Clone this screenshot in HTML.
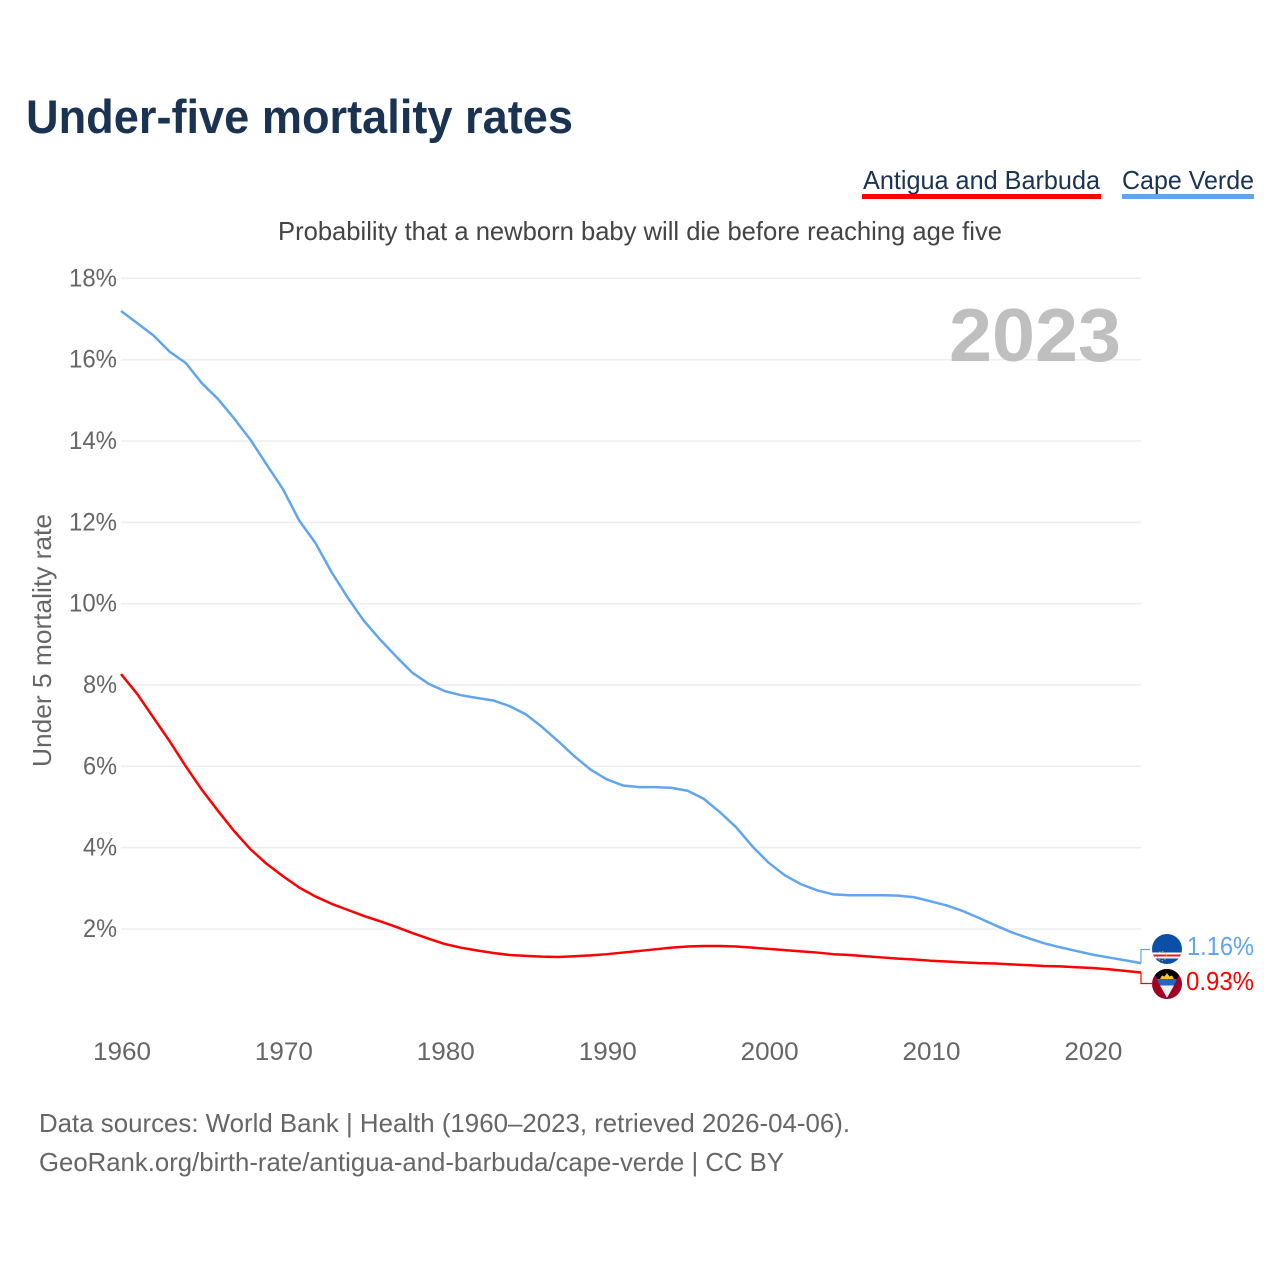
<!DOCTYPE html>
<html lang="en">
<head>
<meta charset="utf-8">
<title>Under-five mortality rates</title>
<style>
html,body{margin:0;padding:0;background:#fff;}
svg{display:block;font-family:"Liberation Sans",sans-serif;}
</style>
</head>
<body>
<svg id="chart" xmlns="http://www.w3.org/2000/svg" width="1280" height="1280" viewBox="0 0 1280 1280">
  <rect width="1280" height="1280" fill="#ffffff"/>
  <text x="26" y="133" font-size="47" font-weight="700" fill="#1a3353" textLength="547" lengthAdjust="spacingAndGlyphs">Under-five mortality rates</text>

  <g>
    <text x="863" y="189" font-size="26" fill="#1a3353" textLength="237" lengthAdjust="spacingAndGlyphs">Antigua and Barbuda</text>
    <rect x="862" y="194" width="239" height="5" fill="#ff0000"/>
  </g>
  <g>
    <text x="1122" y="189" font-size="26" fill="#1a3353" textLength="132" lengthAdjust="spacingAndGlyphs">Cape Verde</text>
    <rect x="1122" y="194" width="132" height="5" fill="#60a5ee"/>
  </g>

  <text x="278" y="240" font-size="26" fill="#444444" textLength="724" lengthAdjust="spacingAndGlyphs">Probability that a newborn baby will die before reaching age five</text>
  <text transform="translate(51,767) rotate(-90)" font-size="26" fill="#666666" textLength="253" lengthAdjust="spacingAndGlyphs">Under 5 mortality rate</text>

  <g id="grid"></g>
  <g id="yticks"></g>
  <g id="xticks"></g>

  <text x="949" y="361" font-size="75" font-weight="700" fill="#bfbfbf" textLength="172" lengthAdjust="spacingAndGlyphs">2023</text>

  <g id="series"></g>
  <g id="ends"></g>

  <defs>
    <clipPath id="clip-cv"><circle cx="1167" cy="949" r="15"/></clipPath>
    <clipPath id="clip-ag"><circle cx="1167" cy="984" r="15"/></clipPath>
  </defs>
  <g clip-path="url(#clip-cv)">
    <rect x="1152" y="934" width="30" height="30" fill="#0a4fa8"/>
    <rect x="1152" y="952.5" width="30" height="6" fill="#ffffff"/>
    <rect x="1152" y="954.5" width="30" height="2" fill="#d8202c"/>
    <circle cx="1162" cy="956" r="4.5" fill="none" stroke="#d9b84a" stroke-width="1" stroke-dasharray="1.5 1.5" opacity="0.8"/>
  </g>
  <g clip-path="url(#clip-ag)">
    <rect x="1152" y="969" width="30" height="30" fill="#a00022"/>
    <polygon points="1152,969 1182,969 1167,999" fill="#000000"/>
    <polygon points="1157,979 1177,979 1174,985.5 1160,985.5" fill="#1f6ac0"/>
    <polygon points="1160,985.5 1174,985.5 1167,998" fill="#eeeeee"/>
    <polygon points="1160,979 1162,975.5 1164.5,976.5 1167,973 1169.5,976.5 1172,975.5 1174,979" fill="#f4c430"/>
  </g>

  <text x="39" y="1132" font-size="26" fill="#666666" textLength="811" lengthAdjust="spacingAndGlyphs">Data sources: World Bank | Health (1960–2023, retrieved 2026-04-06).</text>
  <text x="39" y="1171" font-size="26" fill="#666666" textLength="745" lengthAdjust="spacingAndGlyphs">GeoRank.org/birth-rate/antigua-and-barbuda/cape-verde | CC BY</text>
</svg>

<script>
const years = [1960,1961,1962,1963,1964,1965,1966,1967,1968,1969,1970,1971,1972,1973,1974,1975,1976,1977,1978,1979,1980,1981,1982,1983,1984,1985,1986,1987,1988,1989,1990,1991,1992,1993,1994,1995,1996,1997,1998,1999,2000,2001,2002,2003,2004,2005,2006,2007,2008,2009,2010,2011,2012,2013,2014,2015,2016,2017,2018,2019,2020,2021,2022,2023];
const capeVerde = [17.2,16.9,16.6,16.2,15.92,15.42,15.03,14.55,14.03,13.42,12.82,12.05,11.5,10.78,10.15,9.58,9.12,8.7,8.3,8.03,7.85,7.75,7.68,7.62,7.48,7.28,6.97,6.62,6.25,5.92,5.68,5.53,5.49,5.49,5.47,5.4,5.2,4.87,4.5,4.03,3.63,3.32,3.1,2.95,2.85,2.83,2.83,2.83,2.82,2.78,2.68,2.58,2.44,2.27,2.09,1.92,1.78,1.65,1.55,1.46,1.37,1.3,1.23,1.16];
const antigua = [8.27,7.78,7.2,6.62,6.0,5.42,4.9,4.4,3.96,3.6,3.3,3.02,2.8,2.62,2.47,2.32,2.19,2.05,1.9,1.76,1.63,1.54,1.47,1.41,1.36,1.34,1.32,1.31,1.33,1.35,1.38,1.42,1.46,1.5,1.54,1.57,1.58,1.58,1.57,1.54,1.51,1.48,1.45,1.42,1.38,1.36,1.33,1.3,1.27,1.25,1.22,1.2,1.18,1.16,1.15,1.13,1.11,1.09,1.08,1.06,1.04,1.01,0.97,0.93];
const yTickValues = [2,4,6,8,10,12,14,16,18];
const xTickValues = [1960,1970,1980,1990,2000,2010,2020];

const NS = 'http://www.w3.org/2000/svg';
const xScale = function (year) { return 121 + (year - 1960) * (1141 - 121) / 63; };
const yScale = function (v) { return 1010.3 - v * 40.66; };

function make(parentId, tag, attrs, text) {
  const el = document.createElementNS(NS, tag);
  for (const k in attrs) el.setAttribute(k, attrs[k]);
  if (text !== undefined) el.textContent = text;
  document.getElementById(parentId).appendChild(el);
  return el;
}

yTickValues.forEach(function (v) {
  const y = yScale(v);
  const line = make('grid', 'line', {x1: 121, x2: 1141, y1: y, y2: y, stroke: '#eeeeee', 'stroke-width': 1.5});
  
  
  const label = make('yticks', 'text', {
    x: 117, y: y + 8, 'text-anchor': 'end', 'font-size': 25, fill: '#666666',
    textLength: v >= 10 ? 48 : 34, lengthAdjust: 'spacingAndGlyphs'
  }, v + '%');
  
  
});

xTickValues.forEach(function (yr) {
  const label = make('xticks', 'text', {
    x: xScale(yr) - 28, y: 1060, 'font-size': 25, fill: '#666666',
    textLength: 58, lengthAdjust: 'spacingAndGlyphs'
  }, String(yr));
  
  
});

function linePath(values) {
  return values.map(function (v, i) {
    return (i ? 'L' : 'M') + xScale(years[i]).toFixed(2) + ' ' + yScale(v).toFixed(2);
  }).join(' ');
}

const blueLine = make('series', 'path', {d: linePath(capeVerde), fill: 'none', stroke: '#60a5ee', 'stroke-width': 2.5, 'stroke-linejoin': 'round'});



const redLine = make('series', 'path', {d: linePath(antigua), fill: 'none', stroke: '#ff0000', 'stroke-width': 2.5, 'stroke-linejoin': 'round'});



const lastYear = years[years.length - 1];
const xEnd = xScale(lastYear);
const blueLast = capeVerde[capeVerde.length - 1];
const redLast = antigua[antigua.length - 1];

const blueConn = make('ends', 'path', {d: 'M' + xEnd + ' ' + yScale(blueLast) + ' V949.5 H1150', fill: 'none', stroke: '#60a5ee', 'stroke-width': 1.2});



const redConn = make('ends', 'path', {d: 'M' + xEnd + ' ' + yScale(redLast) + ' V983.5 H1152', fill: 'none', stroke: '#ff0000', 'stroke-width': 1.2});



const blueEnd = make('ends', 'text', {x: 1187, y: 955, 'font-size': 26, fill: '#60a5ee', textLength: 67, lengthAdjust: 'spacingAndGlyphs'}, blueLast.toFixed(2) + '%');



const redEnd = make('ends', 'text', {x: 1186, y: 990, 'font-size': 26, fill: '#ff0000', textLength: 68, lengthAdjust: 'spacingAndGlyphs'}, redLast.toFixed(2) + '%');


</script>
</body>
</html>
